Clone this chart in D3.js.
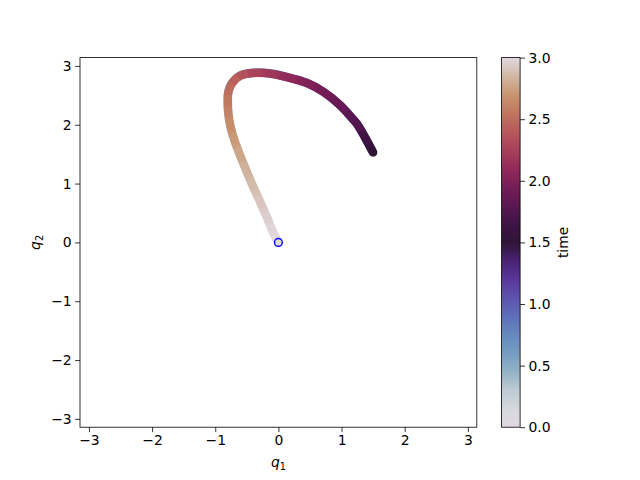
<!DOCTYPE html>
<html>
<head>
<meta charset="utf-8">
<script src="https://cdn.jsdelivr.net/npm/d3@7"></script>
<style>
html,body{margin:0;padding:0;background:#fff;}
svg text{font-family:"DejaVu Sans",sans-serif;}
</style>
</head>
<body>
<svg id="chart" width="640" height="480"></svg>
<script>
// ---- data ----
// outward half: t = 0 -> 1.5
const q1Out = [-0.005,-0.095,-0.175,-0.285,-0.405,-0.515,-0.615,-0.695,-0.765,-0.795,-0.805,-0.795,-0.735,-0.615,-0.405,-0.135,0.125,0.445,0.705,0.975,1.105,1.235,1.365,1.495];
const q2Out = [0.005,0.195,0.405,0.675,0.955,1.235,1.495,1.725,1.985,2.185,2.375,2.565,2.715,2.835,2.885,2.875,2.815,2.715,2.565,2.335,2.185,2.025,1.795,1.535];
const tOut  = [0.00,0.02,0.05,0.09,0.13,0.18,0.23,0.28,0.34,0.39,0.44,0.50,0.56,0.64,0.73,0.82,0.91,1.00,1.07,1.15,1.20,1.26,1.36,1.50];
// return half: t = 1.5 -> 3.0
const q1Back = [1.50,1.37,1.24,1.11,0.98,0.71,0.45,0.13,-0.13,-0.40,-0.61,-0.73,-0.79,-0.80,-0.79,-0.76,-0.69,-0.61,-0.51,-0.40,-0.28,-0.17,-0.09,0.00];
const q2Back = [1.53,1.79,2.02,2.18,2.33,2.56,2.71,2.81,2.87,2.88,2.83,2.71,2.56,2.37,2.18,1.98,1.72,1.49,1.23,0.95,0.67,0.40,0.19,0.00];
const tBack  = [1.50,1.64,1.74,1.80,1.85,1.93,2.00,2.09,2.18,2.27,2.36,2.44,2.50,2.56,2.61,2.66,2.72,2.77,2.82,2.87,2.91,2.95,2.98,3.00];
const startPoint = [0, 0];
const xTicks = [-3,-2,-1,0,1,2,3];
const yTicks = [-3,-2,-1,0,1,2,3];
const cbTicks = [0.0,0.5,1.0,1.5,2.0,2.5,3.0];
// twilight colormap control colours
const twilightStops = ["#e2d9e2","#d5d8dd","#bdcbd4","#93b3c6","#769cc2","#6689c0","#5e6fbb","#5d52af","#59379a","#4a2275","#2f1436","#3e1345","#5a1752","#771d57","#922a5a","#a8405a","#b7595b","#c17660","#c8956f","#d2b8a4","#e2d9e2"];

// ---- layout ----
const svg = d3.select("#chart");
const L = 80, R = 476.8, T = 57.6, B = 427.2;
const cbL = 501.6, cbR = 520.1;
const x = d3.scaleLinear().domain([-Math.PI, Math.PI]).range([L, R]);
const y = d3.scaleLinear().domain([-Math.PI, Math.PI]).range([B, T]);
const cmap = d3.scaleLinear().domain(twilightStops.map((d,i)=>i/(twilightStops.length-1))).range(twilightStops).interpolate(d3.interpolateRgb);
const tScale = d3.scaleLinear().domain([0,3]).range([0,1]);
const col = t => cmap(tScale(t));
const cbY = d3.scaleLinear().domain([0,3]).range([B, T]);

const defs = svg.append("defs");
const W = 8.4;
const smooth = d3.line().x(d=>x(d.q1)).y(d=>y(d.q2)).curve(d3.curveCatmullRom.alpha(0.5));
const seg = d3.line().x(d=>x(d.q1)).y(d=>y(d.q2));

function drawHalf(a1, a2, at, name){
  const pts = a1.map((v,i)=>({q1:v,q2:a2[i],t:at[i]}));
  const m = defs.append("mask").attr("id","m"+name).attr("maskUnits","userSpaceOnUse")
    .attr("x",0).attr("y",0).attr("width",640).attr("height",480);
  m.append("path").attr("d",smooth(pts)).attr("fill","none").attr("stroke","#fff")
    .attr("stroke-width",W).attr("stroke-linecap","round").attr("stroke-linejoin","round");
  const g = svg.append("g").attr("mask","url(#m"+name+")");
  pts.forEach((p,i)=>{
    g.append("circle").attr("cx",x(p.q1)).attr("cy",y(p.q2)).attr("r",W).attr("fill",col(p.t));
    if(i<pts.length-1){
      const n = pts[i+1];
      const id = "sg"+name+i;
      const gr = defs.append("linearGradient").attr("id",id).attr("gradientUnits","userSpaceOnUse")
        .attr("x1",x(p.q1)).attr("y1",y(p.q2)).attr("x2",x(n.q1)).attr("y2",y(n.q2));
      gr.append("stop").attr("offset","0").attr("stop-color",col(p.t));
      gr.append("stop").attr("offset","1").attr("stop-color",col(n.t));
      g.append("path").attr("d",seg([p,n])).attr("stroke","url(#"+id+")").attr("stroke-width",W*2)
        .attr("fill","none").attr("stroke-linecap","butt");
    }
  });
}
drawHalf(q1Out, q2Out, tOut, "o");
drawHalf(q1Back, q2Back, tBack, "b");

// start marker
svg.append("circle").attr("cx",x(startPoint[0])).attr("cy",y(startPoint[1])).attr("r",3.9)
  .attr("fill","none").attr("stroke","#0000ff").attr("stroke-width",1.4);

// ---- axes ----
const fmt = d => (d<0?"\u2212":"")+Math.abs(d);
const xAxis = d3.axisBottom(x).tickValues(xTicks).tickSize(4.9).tickPadding(3.5).tickFormat(fmt);
const yAxis = d3.axisLeft(y).tickValues(yTicks).tickSize(4.9).tickPadding(3.5).tickFormat(fmt);
const gx = svg.append("g").attr("transform",`translate(0,${B})`).call(xAxis);
const gy = svg.append("g").attr("transform",`translate(${L},0)`).call(yAxis);
[gx,gy].forEach(a=>{
  a.select(".domain").remove();
  a.selectAll("line").attr("stroke","#000").attr("stroke-width",0.8);
  a.selectAll("text").attr("font-size","13.9px").attr("fill","#000").attr("font-family","DejaVu Sans");
});
svg.append("rect").attr("x",L).attr("y",T).attr("width",R-L).attr("height",B-T)
  .attr("fill","none").attr("stroke","#000").attr("stroke-width",0.8);

// axis labels
const xl = svg.append("text").attr("x",(L+R)/2).attr("y",467).attr("text-anchor","middle").attr("font-size","13.9px");
xl.append("tspan").attr("font-style","italic").text("q");
xl.append("tspan").attr("font-size","9.7px").attr("dy","2.5").text("1");
const yl = svg.append("text").attr("transform",`translate(40,${(T+B)/2}) rotate(-90)`).attr("text-anchor","middle").attr("font-size","13.9px");
yl.append("tspan").attr("font-style","italic").text("q");
yl.append("tspan").attr("font-size","9.7px").attr("dy","2.5").text("2");

// ---- colorbar ----
const cg = defs.append("linearGradient").attr("id","cbgrad").attr("x1","0").attr("y1","1").attr("x2","0").attr("y2","0");
twilightStops.forEach((c,i)=>cg.append("stop").attr("offset",i/(twilightStops.length-1)).attr("stop-color",c));
svg.append("rect").attr("x",cbL).attr("y",T).attr("width",cbR-cbL).attr("height",B-T).attr("fill","url(#cbgrad)");
svg.append("rect").attr("x",cbL).attr("y",T).attr("width",cbR-cbL).attr("height",B-T)
  .attr("fill","none").attr("stroke","#000").attr("stroke-width",0.8);
const cbAxis = d3.axisRight(cbY).tickValues(cbTicks).tickSize(4.9).tickPadding(3.5).tickFormat(d3.format(".1f"));
const gc = svg.append("g").attr("transform",`translate(${cbR},0)`).call(cbAxis);
gc.select(".domain").remove();
gc.selectAll("line").attr("stroke","#000").attr("stroke-width",0.8);
gc.selectAll("text").attr("font-size","13.9px").attr("fill","#000").attr("font-family","DejaVu Sans");
svg.append("text").attr("transform",`translate(568,${(T+B)/2}) rotate(-90)`).attr("text-anchor","middle")
  .attr("font-size","13.9px").text("time");
</script>
</body>
</html>
